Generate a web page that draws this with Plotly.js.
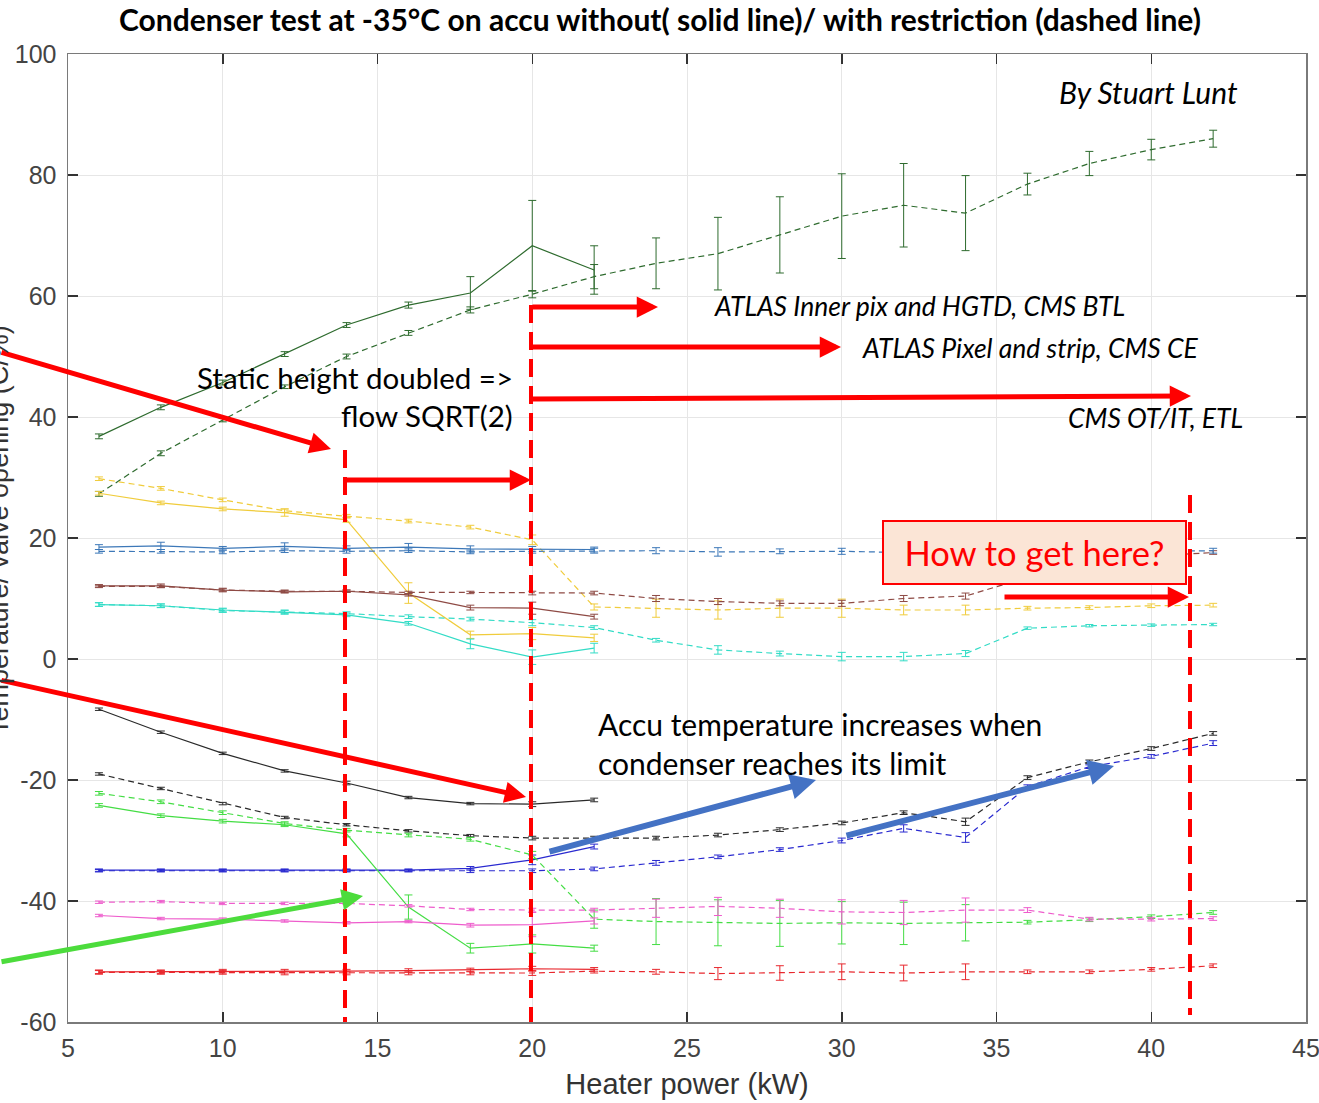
<!DOCTYPE html>
<html>
<head>
<meta charset="utf-8">
<script src="https://cdn.plot.ly/plotly-3.0.1.min.js"></script>
<style>html,body{margin:0;padding:0;background:#fff;}#chart{width:1319px;height:1103px;}</style>
</head>
<body>
<div id="chart"></div>
<script>
// ---- data ----
const xSolid = [6, 8, 10, 12, 14, 16, 18, 20, 22];
const xDashed = [6, 8, 10, 12, 14, 16, 18, 20, 22, 24, 26, 28, 30, 32, 34, 36, 38, 40, 42];

const valveSolid = [36.8, 41.6, 45.7, 50.4, 55.2, 58.5, 60.5, 68.3, 64.3];
const valveSolidErr = [0.4, 0.4, 0.4, 0.4, 0.4, 0.5, 2.7, 7.5, 4.0];
const valveDashed = [27.3, 34.0, 39.5, 45.0, 50.0, 53.9, 57.7, 60.3, 63.2, 65.4, 67.0, 70.1, 73.2, 75.0, 73.7, 78.5, 81.9, 84.2, 86.0];
const valveDashedErr = [0.4, 0.4, 0.3, 0.3, 0.4, 0.4, 0.5, 0.6, 2.0, 4.2, 6.0, 6.3, 7.0, 6.9, 6.2, 1.8, 2.0, 1.7, 1.4];

const yellowSolid = [27.4, 25.8, 24.8, 24.2, 23.0, 10.9, 4.0, 4.2, 3.5];
const yellowSolidErr = [0.3, 0.3, 0.3, 0.6, 0.4, 1.7, 0.6, 1.0, 0.6];
const yellowDashed = [29.8, 28.2, 26.3, 24.5, 23.6, 22.8, 21.8, 19.7, 8.6, 8.4, 8.1, 8.4, 8.4, 8.1, 8.1, 8.4, 8.5, 8.8, 8.9];
const yellowDashedErr = [0.3, 0.3, 0.3, 0.3, 0.3, 0.3, 0.3, 0.8, 0.5, 1.5, 1.5, 1.5, 1.5, 0.8, 0.8, 0.3, 0.3, 0.3, 0.3];

const steelSolid = [18.5, 18.7, 18.3, 18.6, 18.3, 18.5, 18.2, 18.2, 18.1];
const steelSolidErr = [0.4, 0.6, 0.3, 0.6, 0.4, 0.6, 0.5, 0.4, 0.4];
const steelDashed = [17.8, 17.8, 17.7, 17.9, 17.8, 17.9, 17.7, 17.8, 17.9, 17.9, 17.7, 17.8, 17.8, 17.6, 17.6, 17.6, 17.7, 17.8, 17.9];
const steelDashedErr = [0.3, 0.3, 0.3, 0.3, 0.3, 0.3, 0.3, 0.3, 0.4, 0.5, 0.7, 0.4, 0.5, 0.5, 0.5, 0.4, 0.4, 0.4, 0.4];

const brownSolid = [12.1, 12.1, 11.4, 11.1, 11.2, 10.6, 8.5, 8.4, 7.0];
const brownSolidErr = [0.2, 0.3, 0.3, 0.2, 0.2, 0.2, 0.4, 1.0, 0.4];
const brownDashed = [12.0, 12.0, 11.4, 11.2, 11.2, 11.0, 11.0, 10.9, 10.9, 10.0, 9.5, 9.2, 9.2, 10.0, 10.4, 13.5, 15.8, 17.0, 17.6];
const brownDashedErr = [0.2, 0.2, 0.2, 0.2, 0.2, 0.2, 0.2, 0.3, 0.3, 0.5, 0.5, 0.4, 0.5, 0.5, 0.5, 0.3, 0.3, 0.3, 0.3];

const cyanSolid = [9.0, 8.8, 8.1, 7.7, 7.3, 5.9, 2.5, 0.3, 1.8];
const cyanSolidErr = [0.3, 0.3, 0.3, 0.3, 0.3, 0.3, 0.8, 1.2, 0.8];
const cyanDashed = [9.0, 8.8, 8.0, 7.8, 7.5, 7.0, 6.6, 6.0, 5.2, 3.1, 1.5, 0.9, 0.4, 0.4, 0.9, 5.1, 5.5, 5.6, 5.7];
const cyanDashedErr = [0.3, 0.3, 0.3, 0.3, 0.3, 0.3, 0.3, 0.5, 0.3, 0.3, 0.7, 0.4, 0.7, 0.7, 0.5, 0.2, 0.2, 0.2, 0.2];

const blackSolid = [-8.3, -12.1, -15.6, -18.5, -20.5, -22.9, -23.9, -24.0, -23.3];
const blackSolidErr = [0.2, 0.2, 0.2, 0.2, 0.3, 0.2, 0.2, 0.4, 0.3];
const blackDashed = [-19.0, -21.4, -23.9, -26.2, -27.4, -28.4, -29.2, -29.6, -29.6, -29.6, -29.1, -28.2, -27.1, -25.4, -26.9, -19.6, -17.0, -14.8, -12.3];
const blackDashedErr = [0.2, 0.2, 0.2, 0.2, 0.2, 0.2, 0.2, 0.3, 0.3, 0.3, 0.3, 0.3, 0.3, 0.3, 0.6, 0.3, 0.3, 0.3, 0.3];

const navySolid = [-34.9, -34.9, -34.9, -34.9, -34.9, -34.9, -34.6, -33.2, -31.0];
const navySolidErr = [0.2, 0.2, 0.2, 0.2, 0.2, 0.2, 0.3, 0.8, 0.4];
const navyDashed = [-35.0, -35.0, -35.0, -35.0, -35.0, -35.0, -35.0, -35.0, -34.7, -33.7, -32.7, -31.5, -30.0, -28.0, -29.5, -21.1, -17.8, -16.1, -13.9];
const navyDashedErr = [0.2, 0.2, 0.2, 0.2, 0.2, 0.2, 0.3, 0.3, 0.3, 0.4, 0.3, 0.3, 0.4, 0.6, 0.8, 0.3, 0.3, 0.3, 0.4];

const greenSolid = [-24.2, -25.9, -26.8, -27.4, -28.9, -41.0, -47.8, -47.1, -47.8];
const greenSolidErr = [0.3, 0.3, 0.3, 0.3, 0.5, 2.0, 0.8, 1.5, 0.5];
const greenDashed = [-22.2, -23.6, -25.4, -27.2, -28.3, -29.1, -29.8, -32.4, -43.0, -43.4, -43.6, -43.7, -43.6, -43.7, -43.6, -43.5, -43.1, -42.6, -41.9];
const greenDashedErr = [0.3, 0.3, 0.3, 0.3, 0.3, 0.3, 0.3, 0.6, 1.5, 3.8, 3.8, 3.8, 3.5, 3.5, 3.0, 0.3, 0.3, 0.3, 0.3];

const pinkSolid = [-42.4, -42.9, -43.0, -43.3, -43.6, -43.4, -44.0, -43.9, -43.3];
const pinkSolidErr = [0.2, 0.2, 0.2, 0.2, 0.2, 0.2, 0.3, 2.0, 0.5];
const pinkDashed = [-40.2, -40.1, -40.4, -40.4, -40.4, -40.8, -41.4, -41.5, -41.5, -41.2, -40.9, -41.2, -41.8, -41.9, -41.5, -41.5, -43.0, -43.0, -42.9];
const pinkDashedErr = [0.2, 0.2, 0.2, 0.2, 0.2, 0.2, 0.2, 0.3, 0.3, 1.5, 1.5, 1.5, 2.0, 2.0, 2.0, 0.4, 0.3, 0.3, 0.3];

const redSolid = [-51.7, -51.7, -51.6, -51.6, -51.6, -51.5, -51.4, -51.2, -51.3];
const redSolidErr = [0.3, 0.3, 0.3, 0.3, 0.3, 0.3, 0.3, 0.4, 0.3];
const redDashed = [-51.8, -51.8, -51.8, -51.9, -51.9, -51.9, -51.9, -51.9, -51.6, -51.7, -52.0, -51.9, -51.7, -51.9, -51.7, -51.7, -51.7, -51.3, -50.7];
const redDashedErr = [0.3, 0.3, 0.3, 0.3, 0.3, 0.3, 0.3, 0.4, 0.3, 0.4, 1.0, 1.2, 1.3, 1.3, 1.3, 0.3, 0.3, 0.3, 0.3];

const xTicks = [5, 10, 15, 20, 25, 30, 35, 40, 45];
const yTicks = [-60, -40, -20, 0, 20, 40, 60, 80, 100];

const titleText = 'Condenser test at -35°C on accu without( solid line)/ with restriction (dashed line)';
const xTitle = 'Heater power (kW)';
const yTitle = 'Temperature/ valve opening (C/%)';

// ---- traces ----
const DASH = '6px,4px';
function tr(x, y, err, color, dashed) {
  return {
    x: x, y: y, type: 'scatter', mode: 'lines',
    line: {color: color, width: 1.2, dash: dashed ? DASH : 'solid'},
    error_y: {type: 'data', array: err, visible: true, color: color, thickness: 1, width: 4},
    hoverinfo: 'skip', showlegend: false
  };
}
const series = [
  [valveSolid, valveSolidErr, valveDashed, valveDashedErr, '#2e6b2e'],
  [yellowSolid, yellowSolidErr, yellowDashed, yellowDashedErr, '#f0cc3c'],
  [brownSolid, brownSolidErr, brownDashed, brownDashedErr, '#8e4a44'],
  [cyanSolid, cyanSolidErr, cyanDashed, cyanDashedErr, '#33dcc6'],
  [steelSolid, steelSolidErr, steelDashed, steelDashedErr, '#3d78b8'],
  [blackSolid, blackSolidErr, blackDashed, blackDashedErr, '#2a2a2a'],
  [navySolid, navySolidErr, navyDashed, navyDashedErr, '#2a2ad0'],
  [greenSolid, greenSolidErr, greenDashed, greenDashedErr, '#44dd44'],
  [pinkSolid, pinkSolidErr, pinkDashed, pinkDashedErr, '#ee5ccc'],
  [redSolid, redSolidErr, redDashed, redDashedErr, '#e8282e']
];
const traces = [];
series.forEach(s => {
  traces.push(tr(xSolid, s[0], s[1], s[4], false));
  traces.push(tr(xDashed, s[2], s[3], s[4], true));
});

// ---- annotation helpers (pixel -> data for overlay drawings) ----
const X = px => 5 + (px - 68) / 30.95;
const Y = py => (659 - py) / 6.05;
const CAL = 'Lato, Calibri, "Open Sans", sans-serif';

function arrow(x0, y0, x1, y1, color, w) {
  return {x: X(x1), y: Y(y1), ax: X(x0), ay: Y(y0), xref: 'x', yref: 'y', axref: 'x', ayref: 'y',
    text: '', showarrow: true, arrowhead: 2, arrowsize: 0.85, arrowwidth: w, arrowcolor: color, standoff: 0};
}
function label(px, py, text, anchor, size) {
  return {x: X(px), y: Y(py), xref: 'x', yref: 'y', text: text, showarrow: false,
    xanchor: anchor, yanchor: 'middle', font: {family: CAL, size: size, color: '#000'}};
}

const RED = '#ff0000';
const annotations = [
  {x: 0.5 + (660 - 687) / 1238, y: 1 + (54 - 19) / 968, xref: 'paper', yref: 'paper', text: '<b>' + titleText + '</b>', showarrow: false,
   font: {family: CAL, size: 30, color: '#000'}, xanchor: 'center', yanchor: 'middle'},
  arrow(531, 307, 658, 307, RED, 5),
  arrow(531, 347, 841, 347, RED, 5),
  arrow(531, 399, 1191, 396, RED, 5),
  arrow(345, 480, 531, 480, RED, 5),
  arrow(1003, 597, 1189, 597, RED, 5),
  arrow(0, 352, 331, 449, RED, 5),
  arrow(0, 680, 526, 797, RED, 5),
  arrow(0, 962, 363, 896, '#4cdc3c', 5),
  arrow(548, 852, 816, 780, '#4472c4', 6),
  arrow(845, 836, 1114, 766, '#4472c4', 6),
  label(1240, 92, '<i>By Stuart Lunt</i>', 'right', 30),
  label(712, 306, '<i>ATLAS Inner pix and HGTD, CMS BTL</i>', 'left', 26.5),
  label(860, 348, '<i>ATLAS Pixel and strip, CMS CE</i>', 'left', 26.5),
  label(1245, 418, '<i>CMS OT/IT, ETL</i>', 'right', 26.5),
  label(515, 377, 'Static height doubled =>', 'right', 29.5),
  label(515, 415, 'flow SQRT(2)', 'right', 29.5),
  label(596, 724, 'Accu temperature increases when', 'left', 30),
  label(596, 763, 'condenser reaches its limit', 'left', 30),
  {x: X(1034.5), y: Y(552.5), xref: 'x', yref: 'y', text: 'How to get here?', showarrow: false,
   xanchor: 'center', yanchor: 'middle', width: 301, height: 61, bgcolor: '#fbe5d6', bordercolor: RED,
   borderwidth: 2, borderpad: 0, font: {family: CAL, size: 34.5, color: RED}},
  {x: (-1 - 68) / 1238, y: (1022 - 530) / 968, xref: 'paper', yref: 'paper', text: yTitle, textangle: -90,
   showarrow: false, xanchor: 'center', yanchor: 'middle', font: {family: 'Liberation Sans, Arial, sans-serif', size: 27, color: '#333'}}
];

const shapes = [
  {type: 'line', xref: 'x', yref: 'y', x0: X(345), x1: X(345), y0: Y(450), y1: -60, line: {color: RED, width: 4, dash: '18px,9px'}},
  {type: 'line', xref: 'x', yref: 'y', x0: X(531), x1: X(531), y0: Y(305), y1: -60, line: {color: RED, width: 4, dash: '18px,9px'}},
  {type: 'line', xref: 'x', yref: 'y', x0: X(1190), x1: X(1190), y0: Y(495), y1: Y(1015), line: {color: RED, width: 4, dash: '18px,9px'}}
];

const axisCommon = {
  showgrid: true, gridcolor: '#e6e6e6', gridwidth: 1, zeroline: false,
  showline: true, linecolor: '#7a7a7a', linewidth: 1.5, mirror: 'ticks',
  ticks: 'inside', ticklen: 10, tickwidth: 1.5, tickcolor: '#333',
  ticklabeloverflow: 'allow',
  tickfont: {family: 'Liberation Sans, Arial, sans-serif', size: 25, color: '#444'}
};

const layout = {
  width: 1319, height: 1103,
  margin: {l: 68, r: 13, t: 54, b: 81},
  paper_bgcolor: '#fff', plot_bgcolor: '#fff',
  showlegend: false,
  xaxis: Object.assign({}, axisCommon, {range: [5, 45], tickvals: xTicks, ticktext: xTicks.map(String),
    title: {text: xTitle, font: {family: 'Liberation Sans, Arial, sans-serif', size: 29, color: '#333'}, standoff: 13},
    ticklabelstandoff: 3}),
  yaxis: Object.assign({}, axisCommon, {range: [-60, 100], tickvals: yTicks, ticktext: yTicks.map(String),
    ticklabelstandoff: 5}),
  annotations: annotations,
  shapes: shapes
};

Plotly.newPlot('chart', traces, layout, {staticPlot: true, displayModeBar: false});
</script>
</body>
</html>
